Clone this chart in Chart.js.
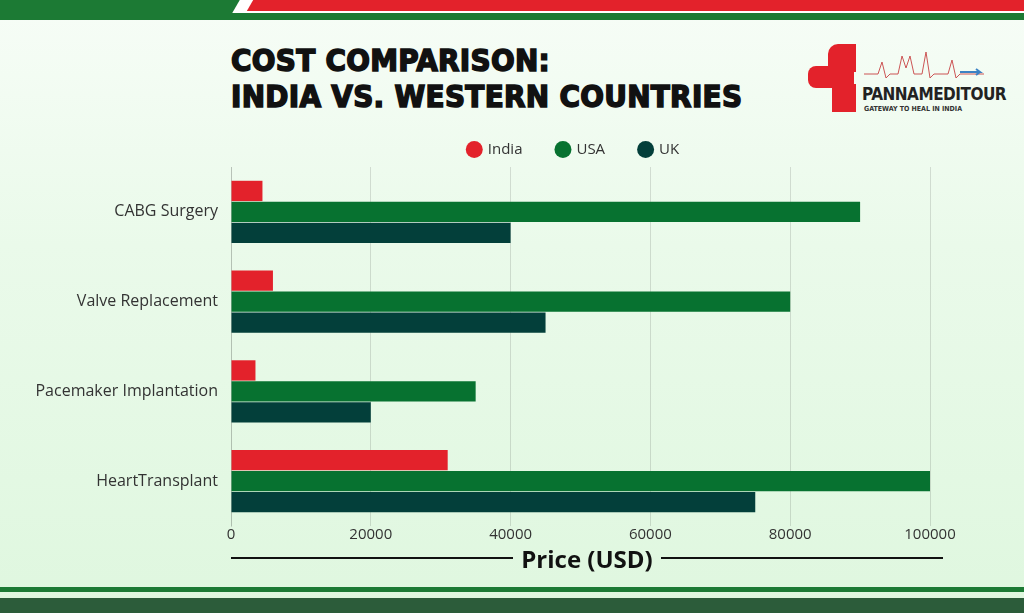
<!DOCTYPE html>
<html>
<head>
<meta charset="utf-8">
<script src="https://cdn.jsdelivr.net/npm/chart.js@4"></script>
<style>
  html, body { margin: 0; padding: 0; }
  body {
    width: 1024px; height: 613px; position: relative; overflow: hidden;
    background: linear-gradient(180deg, #f7fdf7 0%, #eafaea 40%, #dff7df 100%);
    font-family: "Open Sans", sans-serif;
  }
  .top-green { position: absolute; left: 0; top: 0; width: 1024px; height: 20px; background: #1c7a34; }
  .top-white { position: absolute; left: 236px; top: 0; width: 800px; height: 13px; background: #fff; transform: skewX(-30deg); }
  .top-red { position: absolute; left: 250px; top: 0; width: 800px; height: 11px; background: #e3222b; transform: skewX(-30deg); }
  .title {
    position: absolute; left: 231px; top: 42px; font-family: "DejaVu Sans Condensed", "DejaVu Sans", sans-serif;
    font-weight: 900; font-size: 31px; line-height: 36px; color: #111; letter-spacing: 0.3px;
    -webkit-text-stroke: 1.5px #111;
  }
  .logo { position: absolute; left: 808px; top: 44px; width: 180px; height: 72px; }
  .cross1 { position: absolute; top: 0; width: 28px; height: 28px; background: #e3222b; border-radius: 10px 0 0 0; left: 20px; }
  .cross2 { position: absolute; left: 0; top: 22px; width: 46px; height: 22px; background: #e3222b; border-radius: 8px 0 0 8px; }
  .cross3 { position: absolute; left: 24px; top: 40px; width: 24px; height: 28px; background: #e3222b; }
  .logo-name { position: absolute; left: 54px; top: 40px; font-family: "DejaVu Sans Condensed", sans-serif; font-weight: bold; font-size: 17px; color: #222; letter-spacing: -0.5px; }
  .logo-tag { position: absolute; left: 56px; top: 61px; font-family: "DejaVu Sans Condensed", sans-serif; font-weight: bold; font-size: 7px; color: #333; }
  .xtitle { position: absolute; left: 231px; top: 540px; width: 712px; height: 36px; display: flex; align-items: center; }
  .xtitle .ln { flex: 1; height: 2px; background: #111; }
  .xtitle span { padding: 0 8px; font-family: "Open Sans", sans-serif; font-weight: 700; font-size: 24px; color: #111; }
  .bot1 { position: absolute; left: 0; top: 587px; width: 1024px; height: 5px; background: #1c7a34; }
  .bot2 { position: absolute; left: 0; top: 598px; width: 1024px; height: 15px; background: #2c5c3a; }
  #wrap { position: absolute; left: 0; top: 130px; width: 1024px; height: 414px; }
</style>
</head>
<body>
<div class="top-green"></div>
<div class="top-white"></div>
<div class="top-red"></div>
<div class="title">COST COMPARISON:<br>INDIA VS. WESTERN COUNTRIES</div>
<div class="logo">
  <div class="cross1"></div><div class="cross2"></div><div class="cross3"></div>
  <svg style="position:absolute;left:56px;top:4px" width="120" height="34">
    <polyline points="0,26 14,26 18,14 22,30 26,26 34,26 38,8 42,20 46,8 50,26 58,26 62,4 66,30 70,26 84,26 88,12 92,30 96,26 120,26" fill="none" stroke="#c55" stroke-width="1"/>
    <path d="M96,24 l20,0 l-4,-3 m4,3 l-4,3" stroke="#3b82c4" stroke-width="2" fill="none"/>
  </svg>
  <div class="logo-name">PANNAMEDITOUR</div>
  <div class="logo-tag">GATEWAY TO HEAL IN INDIA</div>
</div>
<div id="wrap"><canvas id="chart"></canvas></div>
<div class="xtitle"><div class="ln"></div><span>Price (USD)</span><div class="ln"></div></div>
<div class="bot1"></div>
<div class="bot2"></div>
<script>
const categories = ["CABG Surgery", "Valve Replacement", "Pacemaker Implantation", "HeartTransplant"];
const indiaCost = [4500, 6000, 3500, 31000];
const usaCost = [90000, 80000, 35000, 100000];
const ukCost = [40000, 45000, 20000, 75000];
const xTicks = [0, 20000, 40000, 60000, 80000, 100000];

// nudge the legend to the right, as in the picture
const legendShift = {
  id: "legendShift",
  afterLayout(chart) {
    chart.legend.left += 120;
    chart.legend.right += 120;
  }
};

const ctx = document.getElementById("chart").getContext("2d");
new Chart(ctx, {
  type: "bar",
  data: {
    labels: categories,
    datasets: [
      { label: "India", data: indiaCost, backgroundColor: "#e3222b" },
      { label: "USA", data: usaCost, backgroundColor: "#077230" },
      { label: "UK", data: ukCost, backgroundColor: "#033f3a" }
    ]
  },
  plugins: [legendShift],
  options: {
    indexAxis: "y",
    responsive: true,
    maintainAspectRatio: false,
    animation: false,
    layout: { padding: { left: 0, right: 94 } },
    datasets: { bar: { categoryPercentage: 0.7, barPercentage: 0.97 } },
    plugins: {
      legend: {
        labels: {
          usePointStyle: true, pointStyle: "circle", boxWidth: 12, boxHeight: 12, padding: 12,
          color: "#333", font: { family: "Open Sans", size: 15 },
          generateLabels: chart => Chart.defaults.plugins.legend.labels.generateLabels(chart)
            .map(l => ({ ...l, text: l.text + "\u2003\u2002" }))
        }
      },
      tooltip: { enabled: false }
    },
    scales: {
      x: {
        min: 0, max: 100000,
        afterBuildTicks: axis => { axis.ticks = xTicks.map(v => ({ value: v })); },
        grid: { color: "rgba(0,0,0,0.12)", drawTicks: false },
        border: { display: false },
        ticks: { color: "#333", padding: 0, font: { family: "Open Sans", size: 15 },
                 callback: v => String(v) }
      },
      y: {
        afterFit: axis => { axis.width = 231; },
        grid: { display: false },
        border: { display: true, color: "rgba(0,0,0,0.12)" },
        ticks: { color: "#333", padding: 5, font: { family: "Open Sans", size: 16 } }
      }
    }
  }
});
</script>
</body>
</html>
